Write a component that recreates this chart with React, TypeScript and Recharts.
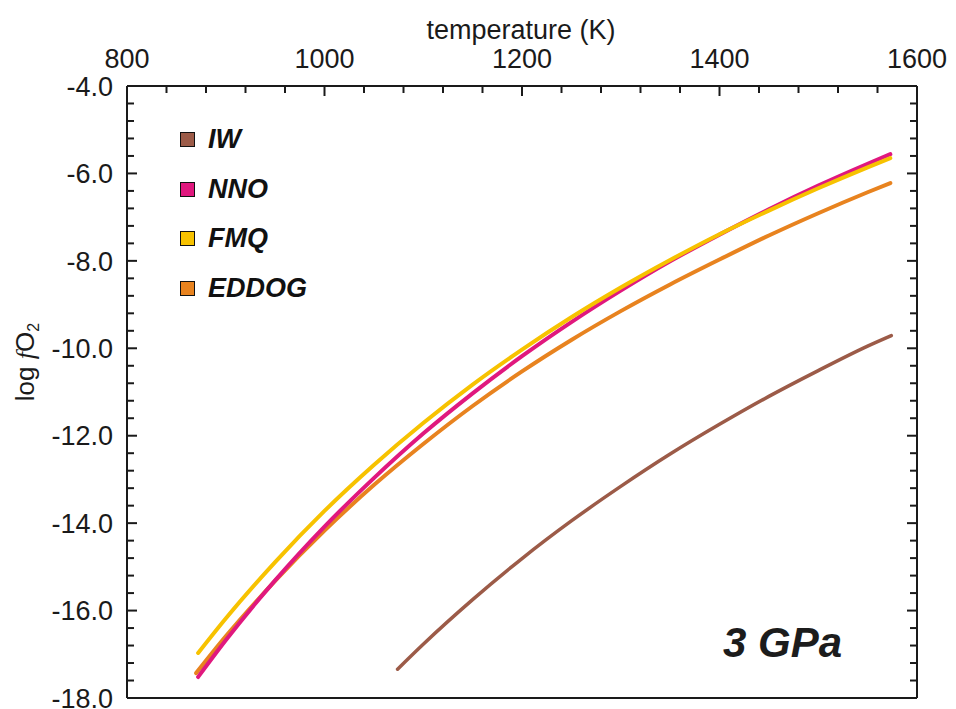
import { LineChart, Line, XAxis, YAxis, Legend, Customized } from "recharts";

// temperature (K) / log fO2
const iwT = [1074, 1100, 1150, 1200, 1250, 1300, 1350, 1400, 1450, 1500, 1550, 1574];
const iwV = [-17.34, -16.77, -15.75, -14.81, -13.95, -13.16, -12.42, -11.74, -11.1, -10.51, -9.95, -9.71];

const fmqT = [872, 900, 950, 1000, 1050, 1100, 1150, 1200, 1250, 1300, 1350, 1400, 1450, 1500, 1550, 1573];
const fmqV = [-16.97, -16.18, -14.89, -13.72, -12.67, -11.71, -10.83, -10.03, -9.29, -8.61, -7.98, -7.39, -6.85, -6.34, -5.86, -5.65];

const nnoT = [872, 900, 950, 1000, 1050, 1100, 1150, 1200, 1250, 1300, 1350, 1400, 1450, 1500, 1550, 1573];
const nnoV = [-17.52, -16.68, -15.31, -14.08, -12.97, -11.95, -11.03, -10.18, -9.4, -8.68, -8.01, -7.4, -6.82, -6.28, -5.78, -5.56];

const eddogT = [870, 900, 950, 1000, 1050, 1100, 1150, 1200, 1250, 1300, 1350, 1400, 1450, 1500, 1550, 1573];
const eddogV = [-17.43, -16.59, -15.32, -14.17, -13.13, -12.19, -11.32, -10.53, -9.81, -9.15, -8.54, -7.97, -7.42, -6.91, -6.43, -6.22];

const xMajor = [800, 1000, 1200, 1400, 1600];
const yMajor = [-18, -16, -14, -12, -10, -8, -6, -4];
const xTicks = Array.from({ length: 21 }, (_, i) => 800 + i * 40);
const yTicks = Array.from({ length: 36 }, (_, i) => Math.round((-18 + i * 0.4) * 10) / 10);

const legendOrder = ["IW", "NNO", "FMQ", "EDDOG"];
const colors: Record<string, string> = {
  IW: "#9C5B48",
  NNO: "#E0187E",
  FMQ: "#F7C200",
  EDDOG: "#E8831F",
};

const toRows = (t: number[], v: number[]) => t.map((x, i) => ({ t: x, v: v[i] }));

// draw order: last one ends up on top
const series = [
  { name: "IW", data: toRows(iwT, iwV), width: 3.5 },
  { name: "EDDOG", data: toRows(eddogT, eddogV), width: 4 },
  { name: "NNO", data: toRows(nnoT, nnoV), width: 4 },
  { name: "FMQ", data: toRows(fmqT, fmqV), width: 4 },
];

const FONT = '"Liberation Sans", Arial, sans-serif';
const INK = "#1a1a1a";

const isMajorX = (v: number) => xMajor.includes(v);
const isMajorY = (v: number) => yMajor.some((m) => Math.abs(m - v) < 1e-6);

// tickSize/tickMargin are 0, so x/y land exactly on the axis line
const TopTick = ({ x, y, payload }: any) => {
  const major = isMajorX(payload.value);
  return (
    <g>
      <line x1={x} x2={x} y1={y} y2={y + (major ? 10 : 7)} stroke={INK} strokeWidth={2} />
      {major && (
        <text x={x} y={y - 18} textAnchor="middle" fontSize={27} fontFamily={FONT} fill={INK}>
          {payload.value}
        </text>
      )}
    </g>
  );
};

const BottomTick = ({ x, y, payload }: any) => {
  const major = isMajorX(payload.value);
  return <line x1={x} x2={x} y1={y} y2={y - (major ? 10 : 7)} stroke={INK} strokeWidth={2} />;
};

const LeftTick = ({ x, y, payload }: any) => {
  const major = isMajorY(payload.value);
  return (
    <g>
      <line x1={x} x2={x + (major ? 10 : 7)} y1={y} y2={y} stroke={INK} strokeWidth={2} />
      {major && (
        <text x={x - 14} y={y} dy="0.36em" textAnchor="end" fontSize={27} fontFamily={FONT} fill={INK}>
          {payload.value.toFixed(1)}
        </text>
      )}
    </g>
  );
};

const RightTick = ({ x, y, payload }: any) => {
  const major = isMajorY(payload.value);
  return <line x1={x} x2={x - (major ? 10 : 7)} y1={y} y2={y} stroke={INK} strokeWidth={2} />;
};

const renderLegend = () => (
  <div style={{ fontFamily: FONT }}>
    {legendOrder.map((name) => (
      <div key={name} style={{ display: "flex", alignItems: "center", height: 49.5 }}>
        <span
          style={{
            width: 13,
            height: 13,
            background: colors[name],
            border: "1.5px solid #111",
            marginRight: 13,
          }}
        />
        <span style={{ fontSize: 27, fontWeight: "bold", fontStyle: "italic", color: "#111" }}>{name}</span>
      </div>
    ))}
  </div>
);

const Titles = () => (
  <g fontFamily={FONT} fill={INK}>
    <text x={521} y={39} textAnchor="middle" fontSize={27}>
      temperature (K)
    </text>
    <text transform="translate(34, 362) rotate(-90)" textAnchor="middle" fontSize={26}>
      log{" "}
      <tspan fontFamily='"Liberation Serif", serif' fontStyle="italic">
        f
      </tspan>
      O
      <tspan fontSize={16} dy={5}>
        2
      </tspan>
    </text>
    <text x={723} y={657} fontSize={42} fontWeight="bold" fontStyle="italic" fill="#1c1c1c">
      3 GPa
    </text>
  </g>
);

export default function App() {
  const axisLine = { stroke: INK, strokeWidth: 2 };
  return (
    <div style={{ position: "absolute", left: 0, top: 0, background: "#fff" }}>
      <LineChart width={956} height={709} margin={{ top: 0, right: 0, bottom: 0, left: 0 }}>
        <XAxis
          xAxisId="top"
          orientation="top"
          type="number"
          dataKey="t"
          domain={[800, 1600]}
          ticks={xTicks}
          interval={0}
          height={86}
          tickSize={0}
          tickMargin={0}
          axisLine={axisLine}
          tickLine={false}
          tick={<TopTick />}
          allowDataOverflow
        />
        <XAxis
          xAxisId="bottom"
          orientation="bottom"
          type="number"
          domain={[800, 1600]}
          ticks={xTicks}
          interval={0}
          height={11}
          tickSize={0}
          tickMargin={0}
          axisLine={axisLine}
          tickLine={false}
          tick={<BottomTick />}
          allowDataOverflow
        />
        <YAxis
          yAxisId="left"
          type="number"
          domain={[-18, -4]}
          ticks={yTicks}
          interval={0}
          width={127}
          tickSize={0}
          tickMargin={0}
          axisLine={axisLine}
          tickLine={false}
          tick={<LeftTick />}
          allowDataOverflow
        />
        <YAxis
          yAxisId="right"
          orientation="right"
          type="number"
          domain={[-18, -4]}
          ticks={yTicks}
          interval={0}
          width={39}
          tickSize={0}
          tickMargin={0}
          axisLine={axisLine}
          tickLine={false}
          tick={<RightTick />}
          allowDataOverflow
        />
        <Legend
          layout="vertical"
          align="center"
          verticalAlign="middle"
          content={renderLegend}
          wrapperStyle={{ left: 180, top: 115, width: 200 }}
        />
        {series.map((s) => (
          <Line
            key={s.name}
            xAxisId="top"
            yAxisId="left"
            data={s.data}
            dataKey="v"
            name={s.name}
            type="monotone"
            stroke={colors[s.name]}
            strokeWidth={s.width}
            strokeLinecap="round"
            dot={false}
            activeDot={false}
            isAnimationActive={false}
          />
        ))}
        <Customized component={Titles} />
      </LineChart>
    </div>
  );
}
